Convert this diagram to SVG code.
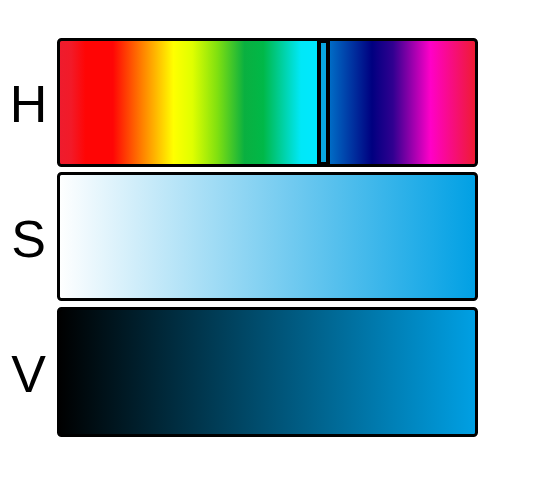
<svg xmlns="http://www.w3.org/2000/svg" width="543" height="488" viewBox="0 0 543 488">
<defs>
<linearGradient id="gH" x1="0" y1="0" x2="1" y2="0">
<stop offset="0" stop-color="#ee1c2e"/>
<stop offset="0.03" stop-color="#f21a28"/>
<stop offset="0.065" stop-color="#ff0505"/>
<stop offset="0.13" stop-color="#ff0505"/>
<stop offset="0.2" stop-color="#ff8000"/>
<stop offset="0.275" stop-color="#ffff00"/>
<stop offset="0.32" stop-color="#e0ff00"/>
<stop offset="0.38" stop-color="#80e010"/>
<stop offset="0.445" stop-color="#0ab040"/>
<stop offset="0.49" stop-color="#00b848"/>
<stop offset="0.58" stop-color="#00e8f8"/>
<stop offset="0.62" stop-color="#00e8ff"/>
<stop offset="0.645" stop-color="#0070c8"/>
<stop offset="0.75" stop-color="#000080"/>
<stop offset="0.8" stop-color="#300090"/>
<stop offset="0.89" stop-color="#ff00c8"/>
<stop offset="1" stop-color="#ee1c2e"/>
</linearGradient>
<linearGradient id="gS" x1="0" y1="0" x2="1" y2="0">
<stop offset="0" stop-color="#ffffff"/>
<stop offset="1" stop-color="#00a0e4"/>
</linearGradient>
<linearGradient id="gV" x1="0" y1="0" x2="1" y2="0">
<stop offset="0" stop-color="#000000"/>
<stop offset="1" stop-color="#00a0e4"/>
</linearGradient>
</defs>
<style>
.bar{stroke:#000;stroke-width:3}
.lbl{font-family:"Liberation Sans",Arial,sans-serif;font-size:52px;fill:#000;text-anchor:middle}
</style>
<rect width="543" height="488" fill="#fff"/>
<g id="H">
<rect class="bar" x="58.5" y="39.5" width="418" height="126" rx="3" fill="url(#gH)"/>
<rect x="319" y="41" width="9" height="123" fill="#0aa8e0" stroke="#000" stroke-width="4"/>
<text class="lbl" x="28.5" y="122">H</text>
</g>
<g id="S">
<rect class="bar" x="58.5" y="173.5" width="418" height="126" rx="3" fill="url(#gS)"/>
<text class="lbl" x="28.5" y="257">S</text>
</g>
<g id="V">
<rect class="bar" x="58.5" y="308.5" width="418" height="127" rx="3" fill="url(#gV)"/>
<text class="lbl" x="28.5" y="392">V</text>
</g>
<g id="connectors"/>
</svg>
